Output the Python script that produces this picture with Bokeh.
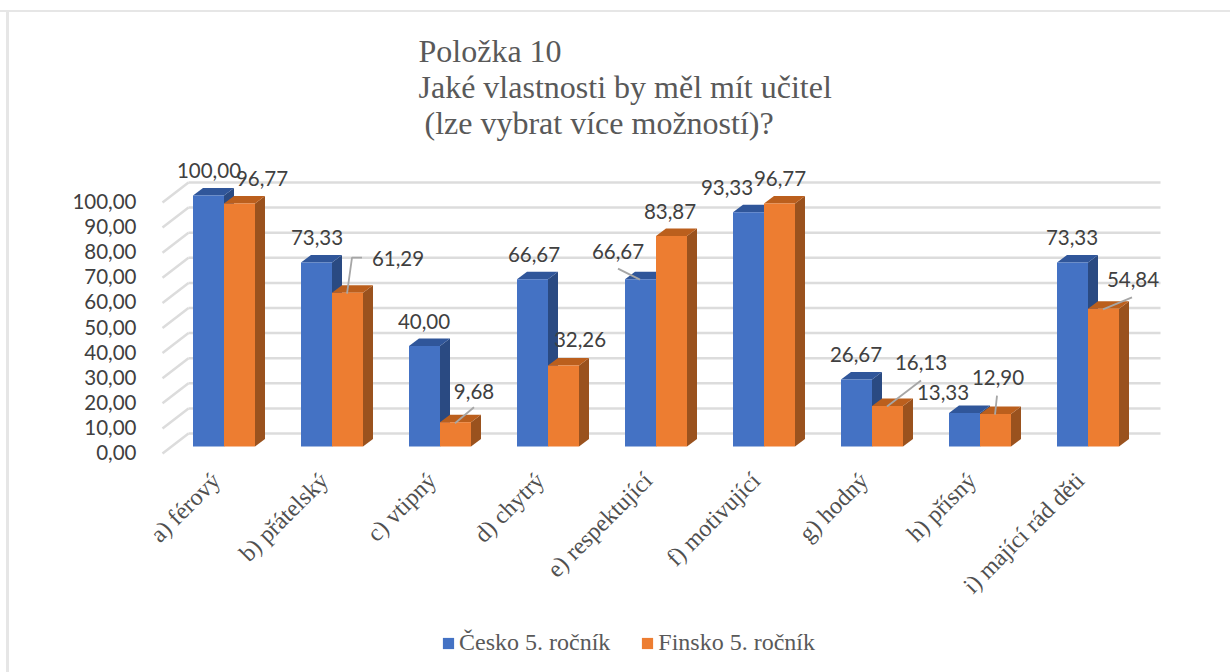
from bokeh.embed import file_html
from bokeh.resources import INLINE
from bokeh.plotting import figure
from bokeh.models import (Range1d, LinearAxis, FixedTicker, Label, Legend, LegendItem,
                          ColumnDataSource)
from bokeh.core.properties import value
import math

# ---- data -------------------------------------------------------------
categories = ["a) férový", "b) přátelský", "c) vtipný", "d) chytrý", "e) respektující",
              "f) motivující", "g) hodný", "h) přísný", "i) mající rád děti"]
cesko = [100.00, 73.33, 40.00, 66.67, 66.67, 93.33, 26.67, 13.33, 73.33]
finsko = [96.77, 61.29, 9.68, 32.26, 83.87, 96.77, 16.13, 12.90, 54.84]
series_names = ["Česko 5. ročník", "Finsko 5. ročník"]
y_ticks = [0, 10, 20, 30, 40, 50, 60, 70, 80, 90, 100]
title_lines = ["Položka 10", "Jaké vlastnosti by měl mít učitel", " (lze vybrat více možností)?"]

# ---- layout (page pixels) ----------------------------------------------
W, H = 1230, 672
PX_X = 108.0                              # px per category
PX_Y = 2.51                               # px per unit
X0 = 223.5                                # page x of category 0 centre
Y0 = 446.0                                # page y of value 0 (bar base)
BAR = 31 / PX_X
DX, DY = 10 / PX_X, 7.5 / PX_Y            # 3D depth


def px(x):
    return (x - X0) / PX_X


def py(y):
    return (Y0 - y) / PX_Y


xr = Range1d(px(0), px(W))
yr = Range1d(py(H), py(0))

FONT = "Lato"
SERIF = "Liberation Serif"
TXT = "#404040"
EDGE = "linear-gradient(#e6e6e6,#e6e6e6)"

p = figure(width=W, height=H, output_backend="svg", toolbar_location=None,
           x_range=xr, y_range=yr, x_axis_type=None, y_axis_type=None,
           min_border=0, outline_line_color=None, background_fill_color=None, border_fill_color=None,
           styles={"background": f"{EDGE} 0 10px/100% 2px no-repeat, {EDGE} 6px 10px/3px 100% no-repeat"})
p.grid.visible = False

# axes (fixed inside the full-canvas frame) --------------------------------
p.extra_y_ranges["lab"] = Range1d((452 - H) / PX_Y, 452 / PX_Y)
ya = LinearAxis(y_range_name="lab", ticker=FixedTicker(ticks=y_ticks), fixed_location=px(142),
                major_label_overrides={t: f"{t:.2f}".replace(".", ",") for t in y_ticks},
                axis_line_color=None, major_tick_line_color=None, minor_tick_line_color=None,
                major_label_text_font=FONT, major_label_text_font_size="20.5px",
                major_label_text_color=TXT, major_label_standoff=0)
p.add_layout(ya, "left")
p.extra_x_ranges["lab"] = Range1d(px(8), px(W + 8))
xa = LinearAxis(x_range_name="lab", ticker=FixedTicker(ticks=list(range(len(categories)))),
                fixed_location=py(470),
                major_label_overrides={i: c for i, c in enumerate(categories)},
                major_label_orientation=math.pi / 4,
                axis_line_color=None, major_tick_line_color=None, minor_tick_line_color=None,
                major_label_text_font=SERIF, major_label_text_font_size="24px",
                major_label_text_color="#505050", major_label_standoff=0)
p.add_layout(xa, "below")

# 3D grid ---------------------------------------------------------------
GX0, GX1, GXF = px(188), px(1160), px(162)
BACK = 13 / PX_Y
FRONT = -7 / PX_Y
p.segment([GX0] * len(y_ticks), [t + BACK for t in y_ticks], [GX1] * len(y_ticks),
          [t + BACK for t in y_ticks], line_color="#dcdcdc", line_width=2.5)
p.segment([GXF] * len(y_ticks), [t + FRONT for t in y_ticks], [GX0] * len(y_ticks),
          [t + BACK for t in y_ticks], line_color="#dcdcdc", line_width=2.5)


def bars3d(vals, lefts, front, side, top):
    rights = [l + BAR for l in lefts]
    p.patches([[r, r + DX, r + DX, r] for r, v in zip(rights, vals)],
              [[0, DY, v + DY, v] for v in vals], fill_color=side, line_color=None)
    p.patches([[l, l + DX, r + DX, r] for l, r in zip(lefts, rights)],
              [[v, v + DY, v + DY, v] for v in vals], fill_color=top, line_color=None)
    return p.quad(left=lefts, right=rights, bottom=[0] * len(vals), top=vals,
                  fill_color=front, line_color=None)


n = range(len(categories))
r_cz = bars3d(cesko, [i - BAR for i in n], "#4472c4", "#2a4a82", "#30569a")
r_fi = bars3d(finsko, [i for i in n], "#ed7d31", "#9a521e", "#bb5f1d")

# data labels: pixel offsets of the label centre from the bar's top centre
off_cz = [(0.5, -25), (0.5, -25), (-0.5, -25), (1.5, -25), (-22.5, -28), (-21.5, -25),
          (-0.5, -25), (-21.5, -20.5), (-0.5, -25)]
off_fi = [(22.5, -25), (50.5, -34), (18.5, -31), (16.5, -26), (-1.5, -24.5), (0.5, -25),
          (33.5, -43.5), (2.5, -36.5), (29.5, -29.5)]


def fmt(v):
    return f"{v:.2f}".replace(".", ",")


def labels(vals, centres, offs):
    src = ColumnDataSource(dict(x=centres, y=vals, t=[fmt(v) for v in vals],
                                dx=[o[0] for o in offs], dy=[o[1] for o in offs]))
    p.text(x="x", y="y", text="t", x_offset="dx", y_offset="dy", source=src,
           text_font=value(FONT), text_font_size="20.5px", text_color=TXT,
           text_align="center", text_baseline="middle")


cc = [i - BAR / 2 for i in n]
cf = [i + BAR / 2 for i in n]

# leader lines: bar index, series, polyline as pixel offsets from bar top centre
leaders = [
    (1, finsko, [(-0.5, 1), (4.5, -35), (14.5, -35)]),
    (2, finsko, [(-0.5, 1), (18.5, -15)]),
    (6, finsko, [(-0.5, 0.5), (33.5, -25.5)]),
    (7, finsko, [(-0.5, 0.5), (1.5, -18.5)]),
    (8, finsko, [(-0.5, 0.5), (28.5, -11.5)]),
    (4, cesko, [(-22.5, -10.5), (-0.5, 0.5)]),
]
xs, ys = [], []
for i, ser, pts in leaders:
    cx = cf[i] if ser is finsko else cc[i]
    xs.append([cx + a / PX_X for a, b in pts])
    ys.append([ser[i] - b / PX_Y for a, b in pts])
p.multi_line(xs, ys, line_color="#a6a6a6", line_width=1.8)

labels(cesko, cc, off_cz)
labels(finsko, cf, off_fi)

# title ------------------------------------------------------------------
for txt, xpx, ypx in zip(title_lines, [418, 418, 424], [50, 86, 122]):
    p.add_layout(Label(x=px(xpx), y=py(ypx),
                       text=txt, text_font=SERIF, text_font_size="32px", text_color="#595959",
                       text_align="left", text_baseline="alphabetic"))

# legend -----------------------------------------------------------------
leg = Legend(items=[LegendItem(label=series_names[0], renderers=[r_cz]),
                    LegendItem(label=series_names[1], renderers=[r_fi])],
             orientation="horizontal", location=(441, H - 656),
             glyph_width=14, glyph_height=14, label_text_font=SERIF, label_text_font_size="24px",
             label_text_color="#595959", border_line_color=None, background_fill_color=None,
             spacing=30, padding=0, margin=0, label_standoff=4)
p.add_layout(leg, "center")

open("out.html", "w").write(file_html(p, INLINE))
